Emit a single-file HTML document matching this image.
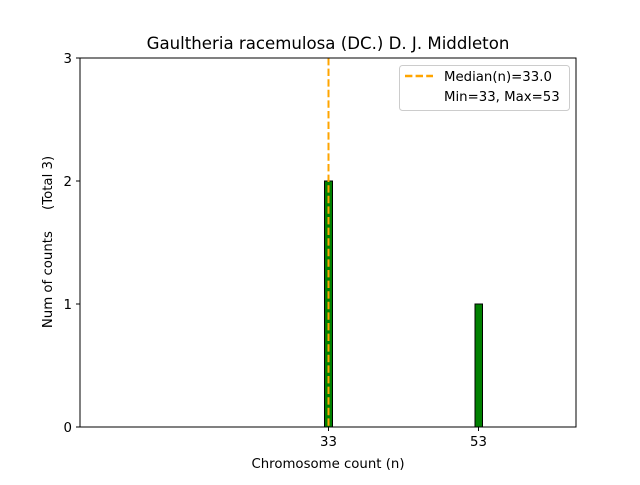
<!DOCTYPE html>
<html><head><style>body{margin:0;background:#fff}text{white-space:pre}</style></head><body>
<svg width="640" height="480" xmlns="http://www.w3.org/2000/svg" font-family="DejaVu Sans, Liberation Sans, sans-serif">
<rect width="640" height="480" fill="#fff"/>
<text x="328" y="49" font-size="16.6" text-anchor="middle" fill="#000">Gaultheria racemulosa (DC.) D. J. Middleton</text>
<rect x="324.5" y="181" width="8" height="246" fill="green" stroke="#000" stroke-width="1"/>
<rect x="475" y="304" width="7.5" height="123" fill="green" stroke="#000" stroke-width="1"/>
<line x1="328.5" y1="58" x2="328.5" y2="427" stroke="orange" stroke-width="2" stroke-dasharray="7.4,3.2"/>
<rect x="80" y="58" width="496" height="369" fill="none" stroke="#000" stroke-width="1"/>
<g stroke="#000"><line x1="80" y1="427" x2="76" y2="427"/><line x1="80" y1="304" x2="76" y2="304"/><line x1="80" y1="181" x2="76" y2="181"/><line x1="80" y1="58" x2="76" y2="58"/>
<line x1="328.5" y1="427" x2="328.5" y2="431"/><line x1="478.5" y1="427" x2="478.5" y2="431"/></g>
<g font-size="13.3" fill="#000" text-anchor="end"><text x="72" y="432">0</text><text x="72" y="309">1</text><text x="72" y="186">2</text><text x="72" y="63">3</text></g>
<g font-size="13.3" fill="#000" text-anchor="middle"><text x="328.5" y="446">33</text><text x="478.5" y="446">53</text>
<text x="328" y="468">Chromosome count (n)</text></g>
<text transform="translate(52,242) rotate(-90)" font-size="13.3" text-anchor="middle" xml:space="preserve">Num of counts     (Total 3)</text>
<rect x="399.5" y="65.5" width="170" height="45" rx="3" fill="#fff" stroke="#ccc"/>
<line x1="405" y1="76" x2="433" y2="76" stroke="orange" stroke-width="2.5" stroke-dasharray="7.4,3.2"/>
<text x="444" y="81" font-size="13.3">Median(n)=33.0</text>
<text x="444" y="101" font-size="13.3">Min=33, Max=53</text>
</svg>
</body></html>
